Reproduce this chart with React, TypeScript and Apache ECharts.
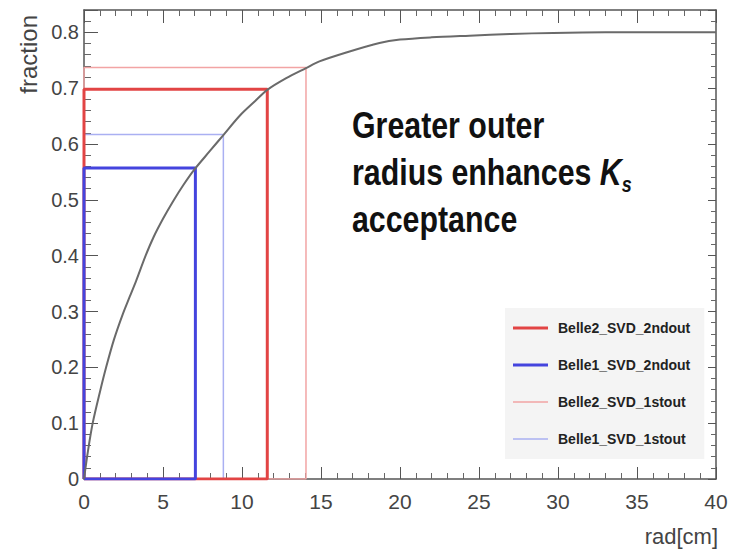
import React, { useEffect, useRef } from "react";
import * as echarts from "echarts";

// ---- data ----
const curveRadius = [0, 0.25, 0.55, 1.0, 1.4, 1.9, 2.45, 2.9, 3.3, 3.9, 4.4, 5.0, 5.65, 6.3, 6.92, 7.97, 8.82, 9.87, 10.8, 11.6, 12.8, 14.05, 14.9, 16.6, 18.7, 20, 22, 24.4, 27, 29.7, 33, 36.5, 40];
const curveFraction = [0, 0.05, 0.1, 0.155, 0.2, 0.25, 0.295, 0.327, 0.355, 0.4, 0.433, 0.466, 0.498, 0.527, 0.552, 0.5875, 0.616, 0.651, 0.676, 0.697, 0.718, 0.736, 0.748, 0.764, 0.781, 0.787, 0.791, 0.794, 0.797, 0.799, 0.8, 0.8, 0.8];

const boxNames = ["Belle2_SVD_1stout", "Belle1_SVD_1stout", "Belle2_SVD_2ndout", "Belle1_SVD_2ndout"];
const boxRadius = [14.05, 8.82, 11.6, 7.05];
const boxFraction = [0.737, 0.617, 0.698, 0.557];
const legendOrder = ["Belle2_SVD_2ndout", "Belle1_SVD_2ndout", "Belle2_SVD_1stout", "Belle1_SVD_1stout"];

const xTickLabels = ["0", "5", "10", "15", "20", "25", "30", "35", "40"];
const yTickLabels = ["0", "0.1", "0.2", "0.3", "0.4", "0.5", "0.6", "0.7", "0.8"];

const xAxisTitle = "rad[cm]";
const yAxisTitle = "fraction";
const noteLines = ["Greater outer", "radius enhances {k|K}{s|s}", "acceptance"];

// ---- styles ----
const FONT = "'Liberation Sans', Arial, Helvetica, sans-serif";
const boxColors = ["#f2a4a4", "#aab0f2", "#e24444", "#4444de"];
const boxWidths = [1.5, 1.5, 3, 3];
const thickIcon = "path://M0,0H35V3H0Z";
const thinIcon = "path://M0,0H35V1.5H0Z";

export default function App() {
  const ref = useRef<HTMLDivElement>(null);
  useEffect(() => {
    if (!ref.current) return;
    const chart = echarts.init(ref.current, null, { renderer: "svg" });

    const boxSeries = boxNames.map((name, i) => ({
      name,
      type: "line",
      symbol: "none",
      data: [
        [0, 0],
        [0, boxFraction[i]],
        [boxRadius[i], boxFraction[i]],
        [boxRadius[i], 0],
        [0, 0],
      ],
      lineStyle: { color: boxColors[i], width: boxWidths[i] },
      itemStyle: { color: boxColors[i] },
      z: 2 + i,
    }));

    const axisCommon = {
      type: "value",
      axisLine: { show: true, onZero: false, lineStyle: { color: "#555", width: 1.5 } },
      splitLine: { show: false },
    };

    const option: any = {
      animation: false,
      backgroundColor: "#ffffff",
      grid: { left: 84, right: 25, top: 10, bottom: 77, outerBoundsMode: "none" },
      xAxis: [
        {
          ...axisCommon,
          position: "bottom",
          min: 0,
          max: 40,
          interval: 5,
          axisTick: { show: true, inside: true, length: 12, lineStyle: { color: "#555" } },
          minorTick: { show: true, splitNumber: 5, length: 6, lineStyle: { color: "#666" } },
          axisLabel: {
            margin: 12,
            fontFamily: FONT,
            fontSize: 21,
            color: "#444",
            formatter: (v: number) => xTickLabels[Math.round(v / 5)] ?? "",
          },
          name: xAxisTitle,
          nameLocation: "end",
          nameGap: 2,
          nameTextStyle: {
            fontFamily: FONT,
            fontSize: 22,
            color: "#444",
            align: "right",
            verticalAlign: "top",
            padding: [46, 0, 0, 0],
          },
        },
        {
          ...axisCommon,
          position: "top",
          min: 0,
          max: 40,
          interval: 5,
          axisTick: { show: true, inside: true, length: 13, lineStyle: { color: "#555" } },
          minorTick: { show: true, splitNumber: 5, length: 6, lineStyle: { color: "#666" } },
          axisLabel: { show: false },
        },
      ],
      yAxis: [
        {
          ...axisCommon,
          position: "left",
          min: 0,
          max: 0.84,
          interval: 0.1,
          axisTick: { show: true, inside: true, length: 14, lineStyle: { color: "#555" } },
          minorTick: { show: true, splitNumber: 5, length: 7, lineStyle: { color: "#666" } },
          axisLabel: {
            margin: 5,
            fontFamily: FONT,
            fontSize: 20,
            color: "#444",
            showMaxLabel: false,
            formatter: (v: number) => {
              const k = Math.round(v * 10);
              return Math.abs(v * 10 - k) < 1e-6 ? yTickLabels[k] ?? "" : "";
            },
          },
          name: yAxisTitle,
          nameLocation: "end",
          nameRotate: 90,
          nameGap: -5,
          nameTextStyle: {
            fontFamily: FONT,
            fontSize: 24,
            color: "#444",
            align: "right",
            verticalAlign: "bottom",
            padding: [0, 0, 44, 0],
          },
        },
        {
          ...axisCommon,
          position: "right",
          min: 0,
          max: 0.84,
          interval: 0.1,
          axisTick: { show: true, inside: true, length: 8, lineStyle: { color: "#555" } },
          minorTick: { show: true, splitNumber: 5, length: 5, lineStyle: { color: "#666" } },
          axisLabel: { show: false },
        },
      ],
      legend: {
        orient: "vertical",
        left: 505,
        top: 308,
        backgroundColor: "#f4f4f4",
        padding: [10, 14, 10, 8],
        itemWidth: 35,
        itemHeight: 14,
        itemGap: 17,
        symbolKeepAspect: true,
        selectedMode: false,
        textStyle: { fontFamily: FONT, fontWeight: "bold", fontSize: 14, lineHeight: 20, color: "#222", padding: [0, 0, 0, 5] },
        data: legendOrder.map((name) => ({
          name,
          icon: name.includes("2ndout") ? thickIcon : thinIcon,
        })),
      },
      graphic: [
        {
          type: "text",
          x: 352,
          y: 101,
          scaleX: 0.82,
          z: 10,
          style: {
            text: noteLines.join("\n"),
            fontFamily: FONT,
            fontWeight: "bold",
            fontSize: 37,
            lineHeight: 47,
            verticalAlign: "top",
            align: "left",
            fill: "#111",
            rich: {
              k: { fontFamily: FONT, fontWeight: "bold", fontStyle: "italic", fontSize: 37, fill: "#111" },
              s: {
                fontFamily: FONT,
                fontWeight: "bold",
                fontStyle: "italic",
                fontSize: 22,
                lineHeight: 20,
                verticalAlign: "bottom",
                fill: "#111",
              },
            },
          },
        },
      ],
      series: [
        ...boxSeries,
        {
          name: "acceptance",
          type: "line",
          symbol: "none",
          smooth: 0.3,
          data: curveRadius.map((x, i) => [x, curveFraction[i]]),
          lineStyle: { color: "#6a6a6a", width: 2 },
          z: 10,
        },
      ],
    };

    chart.setOption(option);
    return () => chart.dispose();
  }, []);

  return (
    <div
      ref={ref}
      style={{ position: "fixed", left: 0, top: 0, width: 741, height: 556, background: "#fff" }}
    />
  );
}
